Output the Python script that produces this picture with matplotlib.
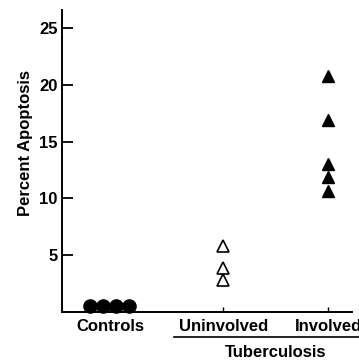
import numpy as np
import matplotlib.pyplot as plt

plt.rcParams['font.family'] = ['Liberation Sans', 'DejaVu Sans']
plt.rcParams['font.weight'] = 'bold'

# data
categories = ['Controls', 'Uninvolved', 'Involved']
positions = [0, 1.07, 2.06]
controls_offsets = [-0.19, -0.07, 0.06, 0.18]
controls = [0.5, 0.5, 0.5, 0.5]
uninvolved = [5.8, 3.9, 2.8]
involved = [20.8, 16.9, 13.0, 11.9, 10.7]
yticks = [5, 10, 15, 20, 25]

fig = plt.figure(figsize=(3.59, 3.60), dpi=100)
ax = fig.add_axes([0.1727, 0.1333, 0.808, 0.839])

ax.plot(np.array(controls_offsets) + positions[0], controls, 'o', color='black',
        markersize=9.5, clip_on=False, zorder=3)
ax.plot(np.full(len(uninvolved), positions[1]), uninvolved, '^',
        markerfacecolor='white', markeredgecolor='black', markeredgewidth=1.2,
        markersize=9, clip_on=False)
ax.plot(np.full(len(involved), positions[2]), involved, '^', color='black',
        markersize=9, clip_on=False)

ax.set_xlim(-0.453, 2.283)
ax.set_ylim(0, 26.6)
ax.set_yticks(yticks)
ax.set_yticklabels([str(t) for t in yticks], fontsize=12, fontweight='bold')
ax.set_xticks(positions)
ax.set_xticklabels(categories, fontsize=12, fontweight='bold')
ax.tick_params(axis='y', direction='in', length=8, width=1.3, pad=3)
ax.tick_params(axis='x', direction='in', length=3.5, width=1.0, pad=5)

for s in ['top', 'right']:
    ax.spines[s].set_visible(False)
for s in ['left', 'bottom']:
    ax.spines[s].set_linewidth(1.4)

ax.text(-0.126, 0.558, 'Percent Apoptosis', transform=ax.transAxes,
        rotation=90, ha='center', va='center', fontsize=12, fontweight='bold')

# Tuberculosis grouping line
tr = ax.get_xaxis_transform()
ax.plot([0.6, 2.6], [-0.083, -0.083], color='black', lw=1.2,
        transform=tr, clip_on=False)
ax.text(1.56, -0.133, 'Tuberculosis', transform=tr, ha='center', va='center',
        fontsize=12, fontweight='bold')

fig.savefig('out.png', dpi=100)
